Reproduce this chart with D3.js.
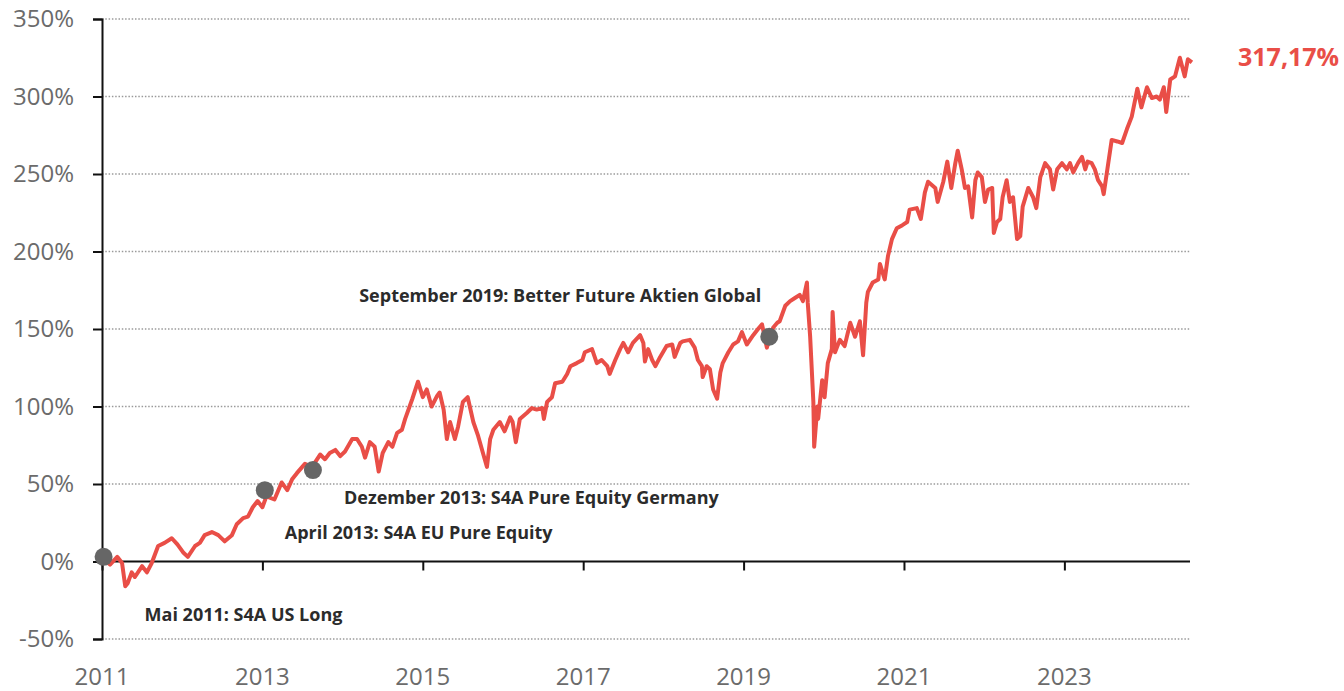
<!DOCTYPE html>
<html>
<head>
<meta charset="utf-8">
<script src="https://cdn.jsdelivr.net/npm/d3@7"></script>
<style>
  body { margin: 0; background: #fff; }
  svg { display: block; font-family: "Open Sans", "Noto Sans", sans-serif; }
</style>
</head>
<body>
<div id="chart"></div>
<script>
// performance since launch, [year, percent]
const performance = [
  [2011.02, 2], [2011.10, -2], [2011.19, 3], [2011.25, -1], [2011.29, -16], [2011.32, -14],
  [2011.37, -7], [2011.41, -10], [2011.50, -3], [2011.56, -7], [2011.62, -1], [2011.70, 10],
  [2011.78, 12], [2011.87, 15], [2011.94, 11], [2012.01, 6], [2012.07, 3], [2012.16, 10],
  [2012.22, 12], [2012.28, 17], [2012.37, 19], [2012.45, 17], [2012.53, 13], [2012.62, 17],
  [2012.68, 24], [2012.76, 28], [2012.82, 29], [2012.88, 35], [2012.94, 39], [2013.00, 35],
  [2013.05, 42], [2013.15, 40], [2013.24, 51], [2013.31, 46], [2013.37, 53], [2013.43, 57],
  [2013.53, 63], [2013.62, 61], [2013.72, 69], [2013.78, 66], [2013.84, 70], [2013.91, 72],
  [2013.97, 68], [2014.03, 71], [2014.12, 79], [2014.18, 79], [2014.24, 74], [2014.28, 67],
  [2014.34, 77], [2014.40, 74], [2014.45, 58], [2014.50, 70], [2014.57, 77], [2014.62, 74],
  [2014.68, 83], [2014.74, 85], [2014.78, 92], [2014.87, 105], [2014.94, 116], [2015.00, 106],
  [2015.05, 111], [2015.11, 100], [2015.18, 107], [2015.21, 109], [2015.26, 98], [2015.30, 79],
  [2015.34, 90], [2015.40, 79], [2015.44, 87], [2015.50, 103], [2015.56, 106], [2015.63, 90],
  [2015.69, 81], [2015.75, 70], [2015.80, 61], [2015.84, 79], [2015.88, 85], [2015.96, 90],
  [2016.02, 84], [2016.09, 93], [2016.12, 90], [2016.16, 77], [2016.21, 92], [2016.30, 96],
  [2016.36, 99], [2016.42, 98], [2016.49, 99], [2016.51, 92], [2016.55, 103], [2016.61, 106],
  [2016.65, 115], [2016.74, 116], [2016.80, 121], [2016.84, 126], [2016.92, 128], [2016.99, 130],
  [2017.02, 135], [2017.11, 137], [2017.17, 128], [2017.23, 130], [2017.30, 126], [2017.33, 121],
  [2017.40, 130], [2017.46, 137], [2017.50, 141], [2017.56, 135], [2017.62, 141], [2017.71, 146],
  [2017.75, 141], [2017.77, 129], [2017.81, 137], [2017.86, 130], [2017.90, 126], [2017.96, 132],
  [2018.04, 139], [2018.11, 140], [2018.14, 132], [2018.21, 141], [2018.24, 142], [2018.33, 143],
  [2018.39, 138], [2018.43, 130], [2018.48, 126], [2018.49, 119], [2018.54, 126], [2018.58, 124],
  [2018.62, 111], [2018.67, 105], [2018.71, 122], [2018.74, 128], [2018.81, 135], [2018.87, 140],
  [2018.93, 142], [2018.98, 148], [2019.04, 140], [2019.12, 146], [2019.18, 150], [2019.23, 153],
  [2019.29, 138], [2019.37, 151], [2019.42, 154], [2019.45, 155], [2019.52, 165], [2019.58, 168],
  [2019.64, 170], [2019.70, 172], [2019.74, 168], [2019.79, 180], [2019.80, 167], [2019.83, 145],
  [2019.87, 103], [2019.88, 74], [2019.92, 100], [2019.93, 92], [2019.98, 117], [2020.01, 106],
  [2020.05, 128], [2020.10, 137], [2020.11, 161], [2020.14, 135], [2020.20, 143], [2020.26, 139],
  [2020.33, 154], [2020.39, 145], [2020.45, 155], [2020.49, 133], [2020.53, 167], [2020.55, 174],
  [2020.61, 180], [2020.68, 182], [2020.70, 192], [2020.76, 182], [2020.80, 197], [2020.85, 208],
  [2020.91, 215], [2020.98, 217], [2021.04, 219], [2021.07, 227], [2021.16, 228], [2021.21, 221],
  [2021.26, 238], [2021.30, 245], [2021.39, 241], [2021.42, 232], [2021.49, 245], [2021.54, 258],
  [2021.59, 241], [2021.64, 257], [2021.67, 265], [2021.72, 253], [2021.76, 241], [2021.80, 242],
  [2021.85, 222], [2021.89, 246], [2021.92, 251], [2021.97, 248], [2022.01, 232], [2022.05, 240],
  [2022.10, 241], [2022.12, 212], [2022.16, 219], [2022.20, 221], [2022.23, 235], [2022.28, 246],
  [2022.32, 232], [2022.36, 235], [2022.41, 208], [2022.45, 210], [2022.48, 229], [2022.55, 241],
  [2022.61, 235], [2022.65, 228], [2022.70, 248], [2022.76, 257], [2022.82, 253], [2022.86, 240],
  [2022.91, 253], [2022.97, 257], [2023.03, 253], [2023.07, 257], [2023.11, 251], [2023.17, 257],
  [2023.22, 261], [2023.26, 253], [2023.29, 258], [2023.34, 257], [2023.38, 253], [2023.42, 246],
  [2023.47, 242], [2023.49, 237], [2023.53, 251], [2023.59, 272], [2023.66, 271], [2023.72, 270],
  [2023.78, 279], [2023.84, 287], [2023.91, 305], [2023.96, 293], [2024.03, 306], [2024.09, 299],
  [2024.15, 300], [2024.19, 298], [2024.24, 306], [2024.27, 290], [2024.32, 311], [2024.38, 313],
  [2024.44, 325], [2024.50, 313], [2024.54, 324], [2024.59, 322]
];

// fund launches marked on the line
const launchYears = [2011.02, 2013.03, 2013.63, 2019.32];
const launchValues = [3, 46, 59, 145];
const launchLabels = [
  "Mai 2011: S4A US Long",
  "April 2013: S4A EU Pure Equity",
  "Dezember 2013: S4A Pure Equity Germany",
  "September 2019: Better Future Aktien Global"
];

const yTicks = [-50, 0, 50, 100, 150, 200, 250, 300, 350];
const xTicks = [2011, 2013, 2015, 2017, 2019, 2021, 2023];
const finalLabel = "317,17%";

const W = 1344, H = 691;
const red = "#e94e47";

const svg = d3.select("#chart").append("svg")
  .attr("width", W)
  .attr("height", H);

const x = d3.scaleLinear().domain([2011, 2024.6]).range([102, 1192.7]);
const y = d3.scaleLinear().domain([-50, 350]).range([639, 19]);

// dotted grid
svg.append("g")
  .selectAll("line")
  .data(yTicks.filter(d => d !== 0))
  .join("line")
  .attr("x1", 102)
  .attr("x2", 1190)
  .attr("y1", d => y(d))
  .attr("y2", d => y(d))
  .attr("stroke", "#9a9a9a")
  .attr("stroke-width", 1.5)
  .attr("stroke-dasharray", "1.5,1.8");

// y axis
const yAxis = svg.append("g")
  .attr("transform", `translate(${x(2011)},0)`)
  .call(d3.axisLeft(y).tickValues(yTicks).tickSize(9).tickPadding(19).tickFormat(d => d + "%"));
yAxis.select(".domain").attr("stroke", "#111").attr("stroke-width", 2);
yAxis.selectAll(".tick line").attr("stroke", "#111").attr("stroke-width", 2);
yAxis.selectAll(".tick text")
  .attr("fill", "#6b6b6b")
  .style("font-size", "24px")
  .style("font-family", "'Open Sans', sans-serif");

// x axis sits on the 0% line, labels at the bottom
const xAxis = svg.append("g")
  .attr("transform", `translate(0,${y(0)})`)
  .call(d3.axisBottom(x).tickValues(xTicks).tickSize(9).tickFormat(""));
xAxis.select(".domain").attr("d", `M${x(2011)},0H1190`).attr("stroke", "#111").attr("stroke-width", 2);
xAxis.selectAll(".tick line").attr("stroke", "#111").attr("stroke-width", 2);

svg.append("g")
  .selectAll("text")
  .data(xTicks)
  .join("text")
  .attr("x", d => x(d))
  .attr("y", 685)
  .attr("text-anchor", "middle")
  .attr("fill", "#6b6b6b")
  .style("font-size", "24px")
  .text(d => d);

// performance line
const line = d3.line()
  .x(d => x(d[0]))
  .y(d => y(d[1]));

svg.append("path")
  .datum(performance)
  .attr("d", line)
  .attr("fill", "none")
  .attr("stroke", red)
  .attr("stroke-width", 4)
  .attr("stroke-linejoin", "round");

// launch markers
const launches = launchYears.map((yr, i) => ({ yr, v: launchValues[i], label: launchLabels[i] }));
const labelOffset = [
  { dx: 41, dy: 57, anchor: "start" },
  { dx: 20, dy: 42, anchor: "start" },
  { dx: 31, dy: 27, anchor: "start" },
  { dx: -8, dy: -42, anchor: "end" }
];

svg.append("g")
  .selectAll("circle")
  .data(launches)
  .join("circle")
  .attr("cx", d => x(d.yr))
  .attr("cy", d => y(d.v))
  .attr("r", 9)
  .attr("fill", "#666");

svg.append("g")
  .selectAll("text")
  .data(launches)
  .join("text")
  .attr("x", (d, i) => x(d.yr) + labelOffset[i].dx)
  .attr("y", (d, i) => y(d.v) + labelOffset[i].dy)
  .attr("text-anchor", (d, i) => labelOffset[i].anchor)
  .attr("dominant-baseline", "central")
  .attr("fill", "#2b2b2b")
  .style("font-size", "18px")
  .style("font-weight", "bold")
  .text(d => d.label);

// final value
svg.append("text")
  .attr("x", 1238)
  .attr("y", 66)
  .attr("fill", red)
  .style("font-size", "25px")
  .style("font-weight", "bold")
  .text(finalLabel);
</script>
</body>
</html>
